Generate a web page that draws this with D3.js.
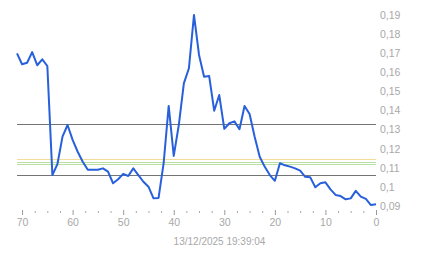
<!DOCTYPE html>
<html>
<head>
<meta charset="utf-8">
<script src="https://cdn.jsdelivr.net/npm/d3@7.9.0/dist/d3.min.js"></script>
<style>
  body { margin: 0; background: #fff; }
  svg { display: block; font-family: "Liberation Sans", Arial, sans-serif; }
</style>
</head>
<body>
<svg id="chart" width="443" height="258"></svg>
<script>
// x = minutes ago (71 .. 0), y = price
const ago = d3.range(71, -1, -1);
const price = [
  0.1699, 0.1642, 0.1650, 0.1706, 0.1637, 0.1668, 0.1633, 0.1062, 0.1120, 0.1263,
  0.1324, 0.1246, 0.1184, 0.1132, 0.1090, 0.1090, 0.1090, 0.1097, 0.1080, 0.1019,
  0.1040, 0.1068, 0.1057, 0.1097, 0.1062, 0.1027, 0.1001, 0.0940, 0.0942, 0.1124,
  0.1424, 0.1162, 0.1324, 0.1542, 0.1621, 0.1900, 0.1691, 0.1577, 0.1581, 0.1399,
  0.1481, 0.1304, 0.1333, 0.1343, 0.1302, 0.1424, 0.1382, 0.1263, 0.1158, 0.1105,
  0.1062, 0.1032, 0.1124, 0.1113, 0.1106, 0.1097, 0.1085, 0.1053, 0.1050, 0.0998,
  0.1019, 0.1024, 0.0987, 0.0958, 0.0952, 0.0935, 0.0940, 0.0979, 0.0949, 0.0937,
  0.0905, 0.0909
];

// reference levels
const grayLevels = [0.1330, 0.1062];
const yellowLevels = [0.1146];
const greenLevels = [0.1131, 0.1121];

const yTicks = [0.09, 0.10, 0.11, 0.12, 0.13, 0.14, 0.15, 0.16, 0.17, 0.18, 0.19];
const yTickLabels = ['0,09', '0,1', '0,11', '0,12', '0,13', '0,14', '0,15', '0,16', '0,17', '0,18', '0,19'];
const xTicks = [70, 60, 50, 40, 30, 20, 10, 0];
const xMinorTicks = d3.range(0, 71, 2.5).filter(d => d % 10 !== 0);
const dateLabel = '13/12/2025 19:39:04';

const svg = d3.select('#chart');
const x = d3.scaleLinear().domain([71, 0]).range([17, 376]);
const y = d3.scaleLinear().domain([0.09, 0.19]).range([206, 15]);

const textColor = '#a8a8a8';

// level lines
const levels = [
  ...grayLevels.map(v => ({ v, c: '#747474' })),
  ...yellowLevels.map(v => ({ v, c: '#f3dc98' })),
  ...greenLevels.map(v => ({ v, c: '#b9e0a2' }))
];
svg.append('g')
  .selectAll('line')
  .data(levels)
  .join('line')
  .attr('x1', x(71)).attr('x2', x(0))
  .attr('y1', d => Math.round(y(d.v)) + 0.5)
  .attr('y2', d => Math.round(y(d.v)) + 0.5)
  .attr('stroke', d => d.c)
  .attr('stroke-width', 1);

// price line
const line = d3.line()
  .x((d, i) => x(ago[i]))
  .y(d => y(d));
svg.append('path')
  .datum(price)
  .attr('d', line)
  .attr('fill', 'none')
  .attr('stroke', '#2860dc')
  .attr('stroke-width', 2)
  .attr('stroke-linejoin', 'round');

// x axis ticks
const xAxis = d3.axisBottom(x).tickValues(xTicks).tickSize(5).tickPadding(4).tickFormat(d3.format('d'));
const gx = svg.append('g').attr('transform', 'translate(0,210)').call(xAxis);
gx.select('.domain').remove();
gx.selectAll('line').attr('stroke', '#9a9a9a');
gx.selectAll('text').attr('fill', textColor).attr('font-size', 10.5).attr('font-family', null);

const xMinor = d3.axisBottom(x).tickValues(xMinorTicks).tickSize(2).tickFormat('');
const gm = svg.append('g').attr('transform', 'translate(0,211)').call(xMinor);
gm.select('.domain').remove();
gm.selectAll('line').attr('stroke', '#a8a8a8');

// y axis labels on the right
const yAxis = d3.axisRight(y).tickValues(yTicks).tickSize(0).tickPadding(4)
  .tickFormat((d, i) => yTickLabels[i]);
const gy = svg.append('g').attr('transform', 'translate(376,0)').call(yAxis);
gy.select('.domain').remove();
gy.selectAll('text').attr('fill', textColor).attr('font-size', 10.5).attr('font-family', null);

// timestamp
svg.append('text')
  .attr('x', 219.5)
  .attr('y', 244.5)
  .attr('text-anchor', 'middle')
  .attr('fill', textColor)
  .attr('font-size', 10)
  .text(dateLabel);
</script>
</body>
</html>
